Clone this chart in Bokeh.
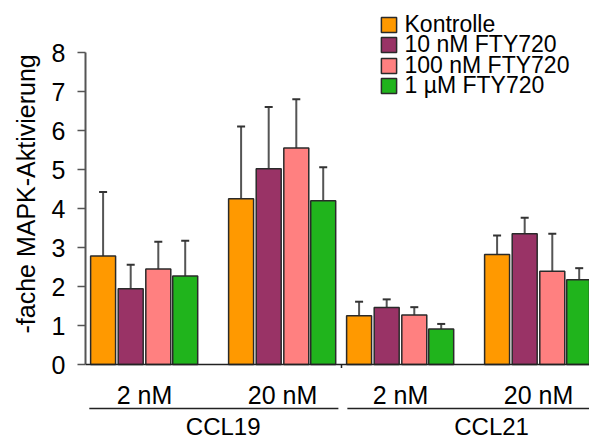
from bokeh.plotting import figure
from bokeh.models import (Range1d, FixedTicker, Legend, LegendItem, Whisker, TeeHead,
                          ColumnDataSource, Span, Title)
from bokeh.core.properties import value
from bokeh.embed import file_html
from bokeh.resources import INLINE

# ---------------- data ----------------
doses = ["2 nM", "20 nM", "2 nM", "20 nM"]
chemokines = ["CCL19", "CCL21"]
series = ["Kontrolle", "10 nM FTY720", "100 nM FTY720", "1 µM FTY720"]
kontrolle = [2.78, 4.25, 1.25, 2.82]
fty_10nm = [1.94, 5.02, 1.46, 3.35]
fty_100nm = [2.45, 5.55, 1.27, 2.39]
fty_1um = [2.27, 4.20, 0.91, 2.17]
sd_kontrolle = [1.64, 1.85, 0.36, 0.49]
sd_10nm = [0.62, 1.58, 0.21, 0.41]
sd_100nm = [0.70, 1.25, 0.20, 0.96]
sd_1um = [0.90, 0.86, 0.13, 0.30]
y_ticks = [0, 1, 2, 3, 4, 5, 6, 7, 8]
y_title = "-fache MAPK-Aktivierung"

# ---------------- layout / style ----------------
colors = ["#FF9900", "#993366", "#FF8080", "#20B41C"]
FONT = "Liberation Sans"
W, H = 589, 439
LEFT = 85
PX_PER_CAT = 138.0
PX_PER_Y = 39.0
group_x = [0.0, 1.0, 1.855, 2.855]
offsets = [-0.30, -0.10, 0.10, 0.295]
bar_w = 0.181

x0 = -(144 - LEFT) / PX_PER_CAT
x1 = x0 + (W - LEFT) / PX_PER_CAT
y_lo = -(H - 364) / PX_PER_Y
y_hi = 364 / PX_PER_Y

p = figure(width=W, height=H, output_backend="svg", toolbar_location=None,
           x_range=Range1d(x0, x1), y_range=Range1d(y_lo, y_hi),
           min_border_left=LEFT, min_border_right=0, min_border_top=0, min_border_bottom=0,
           x_axis_location=None)
p.outline_line_color = None
p.grid.visible = False
p.background_fill_color = "white"
p.border_fill_color = "white"

# y axis
ya = p.yaxis[0]
ya.bounds = (0, 8)
ya.ticker = FixedTicker(ticks=y_ticks)
ya.minor_tick_line_color = None
ya.major_tick_in = 0
ya.major_tick_out = 8
ya.axis_line_color = "#555555"
ya.axis_line_width = 2
ya.major_tick_line_color = "#555555"
ya.major_tick_line_width = 1.5
ya.major_label_text_font = FONT
ya.major_label_text_font_size = "25px"
ya.major_label_text_color = "black"
ya.major_label_standoff = 12

# y title as a left-side title, positioned along the 0..8 span like the reference
p.add_layout(Title(text=y_title, align="left", offset=106, standoff=17,
                   text_font=FONT, text_font_size="25px", text_font_style="normal",
                   text_color="black"), "left")

# baseline
p.add_layout(Span(location=0, dimension="width", line_color="#222222", line_width=1.5))

all_vals = [kontrolle, fty_10nm, fty_100nm, fty_1um]
all_sd = [sd_kontrolle, sd_10nm, sd_100nm, sd_1um]
renderers = []
for i, (name, vals, sds) in enumerate(zip(series, all_vals, all_sd)):
    xs = [g + offsets[i] for g in group_x]
    src = ColumnDataSource(dict(x=xs, top=vals,
                                upper=[v + s for v, s in zip(vals, sds)]))
    r = p.vbar(x="x", top="top", bottom=0, width=bar_w, source=src,
               fill_color=colors[i], line_color="#2a2a2a", line_width=1.5)
    renderers.append(r)
    wk = Whisker(base="x", lower="top", upper="upper", source=src,
                 line_color="#555555", line_width=2,
                 upper_head=TeeHead(size=8, line_color="#333333", line_width=2),
                 lower_head=None)
    p.add_layout(wk)

# category labels
p.text(x=group_x, y=[-0.77] * 4, text=doses, text_align="center", text_baseline="middle",
       text_font=value(FONT), text_font_size="25px", text_color="black")
pair_x = [(group_x[0] + group_x[1]) / 2 + 0.07, (group_x[2] + group_x[3]) / 2 + 0.16]
p.text(x=pair_x, y=[-1.60] * 2, text=chemokines, text_align="center", text_baseline="middle",
       text_font=value(FONT), text_font_size="24px", text_color="black")

# group underlines and separator tick
p.segment(x0=[group_x[0] - 0.40, group_x[2] - 0.385], x1=[group_x[1] + 0.405, x1 + 1],
          y0=[-1.128] * 2, y1=[-1.128] * 2, line_color="#222222", line_width=1.5)
sep = (group_x[1] + group_x[2]) / 2
p.segment(x0=[sep], x1=[sep], y0=[0], y1=[-0.09], line_color="#222222", line_width=1.5)

# legend: one single-row legend per series, stacked tightly like the reference
ROW_H = 32
for i, (name, r) in enumerate(zip(series, renderers)):
    row_top = 8 + 20.5 * i
    lg = Legend(items=[LegendItem(label=name, renderers=[r])],
                location=(293.5, H - row_top - ROW_H), orientation="vertical",
                border_line_color=None, background_fill_alpha=0, padding=0, margin=0,
                spacing=0, glyph_width=19, glyph_height=19, label_height=ROW_H,
                label_standoff=7, label_text_font=FONT, label_text_font_size="23px",
                label_text_baseline="alphabetic", label_text_color="black")
    p.add_layout(lg)

open("out.html", "w").write(file_html(p, INLINE))
